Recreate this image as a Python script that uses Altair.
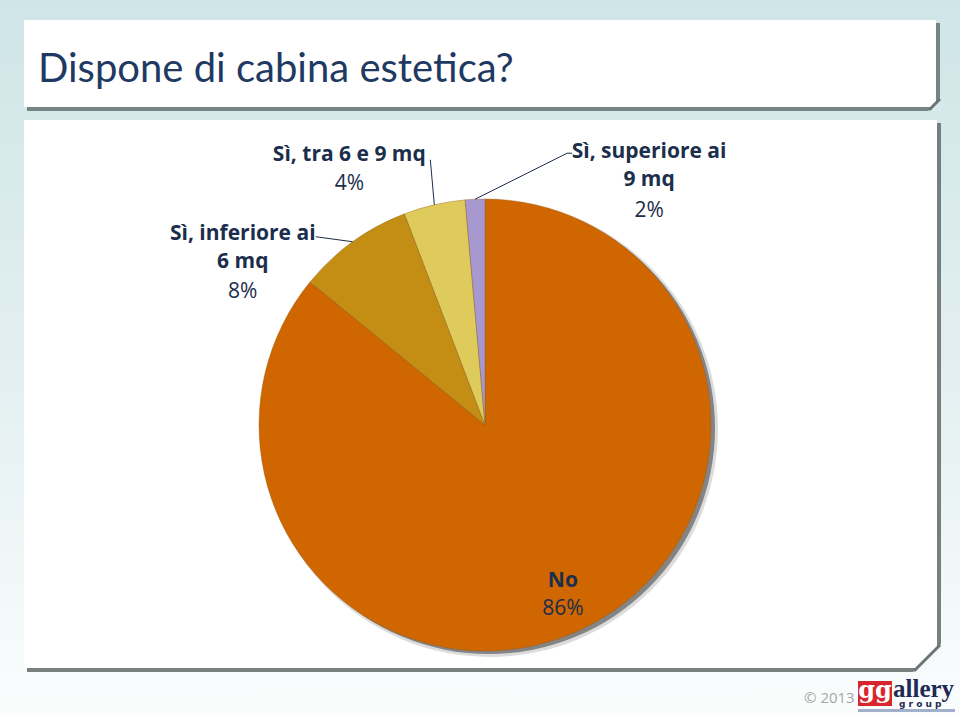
import altair as alt
import pandas as pd

# ---- data ----
categories = ["No", "Sì, inferiore ai 6 mq", "Sì, tra 6 e 9 mq", "Sì, superiore ai 9 mq"]
values = [85.9, 8.3, 4.4, 1.4]
pct_labels = ["86%", "8%", "4%", "2%"]
name_line1 = ["No", "Sì, inferiore ai", "Sì, tra 6 e 9 mq", "Sì, superiore ai"]
name_line2 = ["", "6 mq", "", "9 mq"]
colors = ["#D06600", "#C48E14", "#DFCB5C", "#A898D0"]
title_text = "Dispone di cabina estetica?"

TOTAL = sum(values)
CX, CY, R = 485, 425, 226
LABEL_COLOR = "#1B2E4B"
FONT = "Open Sans"

df = pd.DataFrame({
    "cat": categories,
    "value": values,
    "pct": pct_labels,
    "l1": name_line1,
    "l2": name_line2,
    "order": list(range(len(categories))),
})

one = pd.DataFrame({"a": [0]})

# ---- decoration ----
bg = alt.Chart(one).mark_rect(
    color=alt.Gradient(
        gradient="linear",
        stops=[alt.GradientStop(color="#CFE5E7", offset=0),
               alt.GradientStop(color="#E4F0F1", offset=0.55),
               alt.GradientStop(color="#FBFDFD", offset=1)],
        x1=0, x2=0, y1=0, y2=1,
    )
).encode(x=alt.value(0), x2=alt.value(960), y=alt.value(0), y2=alt.value(715))

def box(x0, y0, x1, y1, color, opacity=1.0):
    return alt.Chart(one).mark_rect(color=color, opacity=opacity).encode(
        x=alt.value(x0), x2=alt.value(x1), y=alt.value(y0), y2=alt.value(y1))

def corner_cut(xr, yb, leg, bgcolor):
    # right triangle covering the bottom-right corner (custom symbol path in unit square)
    tri = alt.Chart(one).mark_point(
        shape="M1,-1 L1,1 L-1,1 Z", filled=True, color=bgcolor, opacity=1,
        size=leg * leg, strokeWidth=0,
    ).encode(x=alt.value(xr - leg / 2), y=alt.value(yb - leg / 2))
    edge = alt.Chart(one).mark_rule(color="#6C7474", strokeWidth=3).encode(
        x=alt.value(xr - 1), y=alt.value(yb - leg + 1),
        x2=alt.value(xr - leg + 1), y2=alt.value(yb - 1))
    return [tri, edge]

title_shadow = box(27, 23, 940, 111, "#6C7878", 0.9)
title_box = box(24, 20, 936, 107, "white")
panel_shadow = box(27, 123, 941, 672, "#6C7272", 0.9)
panel_box = box(24, 120, 937, 668, "white")
cuts = corner_cut(941, 111, 13, "#D8EAEB") + corner_cut(941, 672, 28, "#F6FAFA")

title = alt.Chart(one).mark_text(
    text=title_text, font="Lato", fontSize=40, color="#1F3A62",
    align="left", baseline="alphabetic",
).encode(x=alt.value(38), y=alt.value(82))

# ---- pie ----
pie_shadow2 = alt.Chart(one).mark_arc(radius=R + 2, color="#9A9A9A", opacity=0.35).encode(
    theta=alt.value(0), theta2=alt.value(6.2832), x=alt.value(CX + 5), y=alt.value(CY + 4))
pie_shadow = alt.Chart(one).mark_arc(radius=R, color="#6E6E6E", opacity=0.8).encode(
    theta=alt.value(0), theta2=alt.value(6.2832), x=alt.value(CX + 4), y=alt.value(CY + 3))

pie = alt.Chart(df).mark_arc(radius=R, stroke="#8C5A1E", strokeWidth=0.6, strokeOpacity=0.6).encode(
    theta=alt.Theta("value:Q", stack=True, scale=alt.Scale(domain=[0, TOTAL])),
    color=alt.Color("cat:N", scale=alt.Scale(domain=categories, range=colors), legend=None),
    order=alt.Order("order:Q"),
    x=alt.value(CX), y=alt.value(CY),
)

# slice edge points (mid-angle) computed from the data
base = alt.Chart(df).transform_window(
    cum="sum(value)", sort=[alt.SortField("order")], frame=[None, 0]
).transform_calculate(
    ang=f"2*PI*(datum.cum - datum.value/2)/{TOTAL}"
).transform_calculate(
    ex=f"{CX} + {R}*sin(datum.ang)",
    ey=f"{CY} - {R}*cos(datum.ang)",
)

def label(cat, dx, dys, leader=None):
    sub = base.transform_filter(alt.datum.cat == cat)
    layers = []
    fields = [("l1", True), ("l2", True), ("pct", False)]
    for (field, bold), dy in zip(fields, dys):
        if dy is None:
            continue
        layers.append(sub.mark_text(
            font=FONT, fontSize=21, fontWeight="bold" if bold else "normal",
            color=LABEL_COLOR, align="center", baseline="alphabetic", dx=dx, dy=dy,
        ).encode(
            x=alt.X("ex:Q", scale=None), y=alt.Y("ey:Q", scale=None), text=f"{field}:N"))
    if leader:
        pts = [(0, 0)] + leader
        for (ax, ay), (bx, by) in zip(pts[:-1], pts[1:]):
            layers.append(sub.transform_calculate(
                x1=f"datum.ex + ({ax})", y1=f"datum.ey + ({ay})",
                x2=f"datum.ex + ({bx})", y2=f"datum.ey + ({by})",
            ).mark_rule(color="#1B2E4B", strokeWidth=1).encode(
                x=alt.X("x1:Q", scale=None), y=alt.Y("y1:Q", scale=None),
                x2="x2:Q", y2="y2:Q"))
    return layers

labels = []
labels += label("No", -19, [-42, None, -14])
labels += label("Sì, inferiore ai 6 mq", -110, [-2, 26, 56], leader=[(-37, -5)])
labels += label("Sì, tra 6 e 9 mq", -85, [-44, None, -15], leader=[(-4, -45)])
labels += label("Sì, superiore ai 9 mq", 174, [-41, -13, 18], leader=[(92, -46), (97, -46)])

# ---- footer / logo ----
copy_t = alt.Chart(one).mark_text(text="© 2013", font=FONT, fontSize=15, color="#A6A6A6",
                                  align="left", baseline="alphabetic").encode(
    x=alt.value(804), y=alt.value(703))
logo_red = box(858, 681, 892, 706, "#D7262E")
logo_gg = alt.Chart(one).mark_text(text="gg", font="DejaVu Serif", fontSize=24, fontWeight="bold",
                                   color="white", align="center", baseline="alphabetic").encode(
    x=alt.value(875), y=alt.value(698))
logo_allery = alt.Chart(one).mark_text(text="allery", font="Liberation Serif", fontSize=25, fontWeight="bold",
                                       color="#1F2A55", align="left", baseline="alphabetic").encode(
    x=alt.value(893), y=alt.value(697))
logo_group = alt.Chart(one).mark_text(text="g r o u p", font="DejaVu Sans", fontSize=9, fontWeight="bold",
                                      color="#1F2A55", align="left", baseline="alphabetic").encode(
    x=alt.value(899), y=alt.value(707))
logo_bar = box(858, 709, 955, 712, "#7A8FB5", 0.7)

chart = alt.layer(
    bg, title_shadow, title_box, panel_shadow, panel_box, *cuts, title,
    pie_shadow2, pie_shadow, pie, *labels,
    copy_t, logo_red, logo_gg, logo_allery, logo_group, logo_bar,
).properties(
    width=960, height=715, padding=0, autosize=alt.AutoSizeParams(type="none"),
).configure_view(stroke=None)

chart.save("out.html", embed_options={"renderer": "svg", "actions": False})
